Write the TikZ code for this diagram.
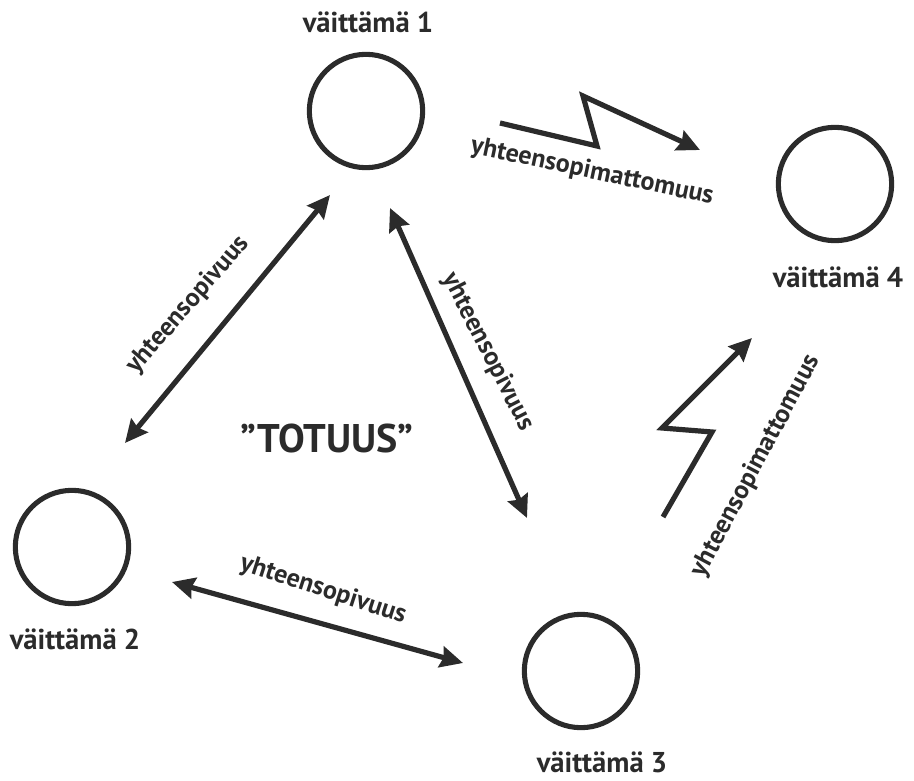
\documentclass[tikz,border=0pt]{standalone}
\usepackage{fontspec}
\setmainfont{PT Sans}
\usetikzlibrary{arrows.meta}
\definecolor{ink}{HTML}{2B2B2B}

\begin{document}
\begin{tikzpicture}[x=0.75pt,y=-0.75pt]
\tikzset{vertex/.style = {shape=circle,draw=ink,line width=3.8pt,minimum size=85pt,inner sep=0pt}}
\tikzset{edge/.style = {<->,> = {Stealth[length=17pt,width=16pt,inset=2pt]},line width=3.9pt,draw=ink}}
\tikzset{bolt/.style = {->,> = {Stealth[length=17pt,width=16pt,inset=2pt]},line width=3.9pt,draw=ink,line join=miter,miter limit=4}}
\tikzset{stmt/.style = {font=\bfseries\fontsize{21.5}{25}\selectfont,text=ink,inner sep=1pt}}
\tikzset{rel/.style = {font=\bfseries\fontsize{19.5}{22}\selectfont,text=ink,inner sep=1pt}}
\useasboundingbox (0,0) rectangle (914,781);
% statements
\node[vertex] (v_1) at (366,111) {};
\node[vertex] (v_2) at (72,547) {};
\node[vertex] (v_3) at (581,671) {};
\node[vertex] (v_4) at (835,184) {};
\node[stmt] (n_1) at (368,22) {väittämä 1};
\node[stmt] (n_2) at (75,639) {väittämä 2};
\node[stmt] (n_3) at (602,762) {väittämä 3};
\node[stmt] (n_4) at (838,277) {väittämä 4};
\node[font=\bfseries\fontsize{30}{34}\selectfont,text=ink] (truth) at (327,438) {”TOTUUS”};
% arrow ends
\coordinate (e_1_2a) at (330,195);
\coordinate (e_1_2b) at (125,443);
\coordinate (e_1_3a) at (390,208);
\coordinate (e_1_3b) at (527,518);
\coordinate (e_2_3a) at (172,582);
\coordinate (e_2_3b) at (463,663);
\coordinate (z_1_4a) at (500,123);
\coordinate (z_1_4b) at (597,146);
\coordinate (z_1_4c) at (583,96);
\coordinate (z_1_4d) at (700,150);
\coordinate (z_3_4a) at (663,517);
\coordinate (z_3_4b) at (712,432);
\coordinate (z_3_4c) at (662,428);
\coordinate (z_3_4d) at (752,338);
\draw[edge] (e_1_2a) to (e_1_2b);
\draw[edge] (e_1_3a) to (e_1_3b);
\draw[edge] (e_2_3a) to (e_2_3b);
\draw[bolt] (z_1_4a) -- (z_1_4b) -- (z_1_4c) -- (z_1_4d);
\draw[bolt] (z_3_4a) -- (z_3_4b) -- (z_3_4c) -- (z_3_4d);
% labels
\node[rel,rotate=49] (r_1_2) at (188,305) {yhteensopivuus};
\node[rel,rotate=-63] (r_1_3) at (488,352) {yhteensopivuus};
\node[rel,rotate=-18] (r_2_3) at (323,590) {yhteensopivuus};
\node[rel,rotate=-12] (r_1_4) at (592,172) {yhteensopimattomuus};
\node[rel,rotate=62] (r_3_4) at (756,466) {yhteensopimattomuus};
\end{tikzpicture}
\end{document}
